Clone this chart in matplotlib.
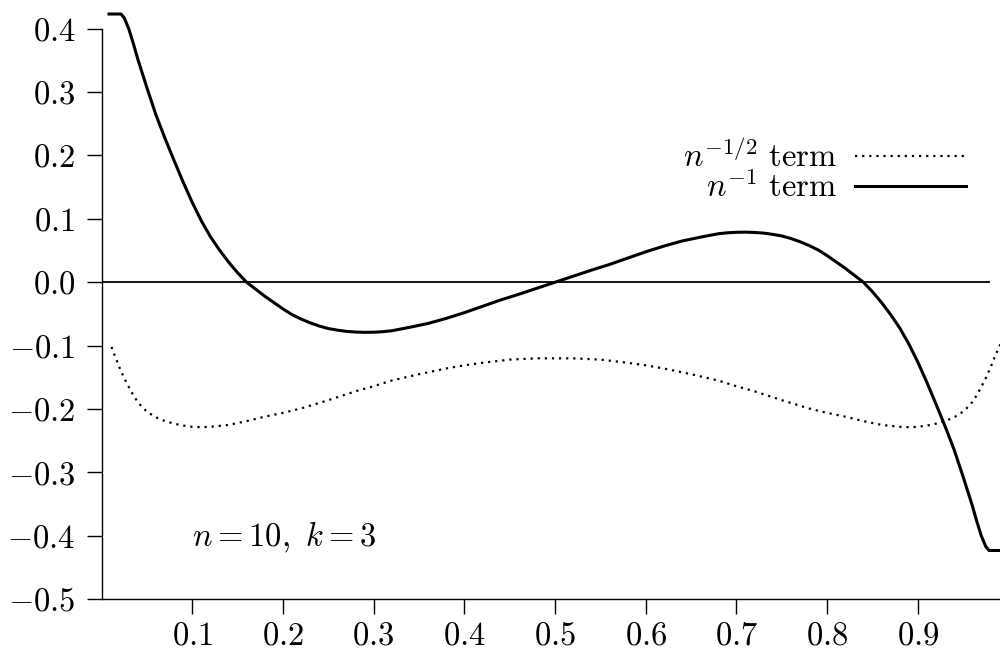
import numpy as np
import matplotlib
matplotlib.use('Agg')
import matplotlib.pyplot as plt
from matplotlib.ticker import FuncFormatter

plt.rcParams['mathtext.fontset'] = 'cm'
plt.rcParams['font.family'] = ['cmr10', 'DejaVu Serif']
plt.rcParams['axes.unicode_minus'] = False

# n^{-1} term (solid)
x1 = [0.0083, 0.0215, 0.025, 0.03, 0.035, 0.04, 0.05, 0.06, 0.07, 0.08, 0.09, 0.10,
      0.11, 0.12, 0.13, 0.14, 0.15, 0.16, 0.17, 0.18, 0.19, 0.20, 0.21, 0.22,
      0.23, 0.24, 0.25, 0.26, 0.27, 0.28, 0.29, 0.30, 0.31, 0.32, 0.34, 0.36,
      0.38, 0.40, 0.42, 0.44, 0.46, 0.48, 0.50,
      0.52, 0.54, 0.56, 0.58, 0.60, 0.62, 0.64, 0.66, 0.68, 0.69, 0.70, 0.71,
      0.72, 0.73, 0.74, 0.75, 0.76, 0.77, 0.78, 0.79, 0.80, 0.81, 0.82, 0.83,
      0.84, 0.85, 0.86, 0.87, 0.88, 0.89, 0.90, 0.91, 0.92, 0.93, 0.94, 0.95,
      0.96, 0.965, 0.97, 0.975, 0.9785, 0.9917]
y1 = [0.423, 0.423, 0.417, 0.400, 0.377, 0.352, 0.307, 0.264, 0.227, 0.192, 0.158, 0.126,
      0.097, 0.072, 0.051, 0.032, 0.015, 0.0, -0.011, -0.022, -0.032, -0.042, -0.051, -0.058,
      -0.064, -0.069, -0.073, -0.0755, -0.0775, -0.0785, -0.079, -0.0788, -0.078, -0.0765, -0.071, -0.065,
      -0.057, -0.048, -0.038, -0.028, -0.019, -0.0095, 0.0,
      0.0095, 0.019, 0.028, 0.038, 0.048, 0.057, 0.065, 0.071, 0.0765, 0.078, 0.0788, 0.079,
      0.0785, 0.0775, 0.0755, 0.073, 0.069, 0.064, 0.058, 0.051, 0.042, 0.032, 0.022, 0.011,
      0.0, -0.015, -0.032, -0.051, -0.072, -0.097, -0.126, -0.158, -0.192, -0.227, -0.264, -0.307,
      -0.352, -0.377, -0.400, -0.417, -0.423, -0.423]

# n^{-1/2} term (dotted)
x2 = [0.011, 0.015, 0.02, 0.025, 0.03, 0.035, 0.04, 0.045, 0.05, 0.06, 0.07, 0.08,
      0.09, 0.10, 0.11, 0.12, 0.14, 0.16, 0.18, 0.20, 0.22, 0.25, 0.28, 0.30,
      0.32, 0.35, 0.38, 0.40, 0.42, 0.45, 0.48, 0.50,
      0.52, 0.55, 0.58, 0.60, 0.62, 0.65, 0.68, 0.70, 0.72, 0.75, 0.78, 0.80,
      0.82, 0.84, 0.86, 0.88, 0.89, 0.90, 0.91, 0.92, 0.93, 0.94, 0.95, 0.955,
      0.96, 0.965, 0.97, 0.975, 0.98, 0.985, 0.991]
y2 = [-0.102, -0.117, -0.135, -0.151, -0.165, -0.178, -0.189, -0.197, -0.204, -0.213, -0.219, -0.223,
      -0.226, -0.228, -0.2286, -0.228, -0.225, -0.219, -0.212, -0.206, -0.199, -0.186, -0.172, -0.164,
      -0.155, -0.145, -0.136, -0.131, -0.127, -0.122, -0.120, -0.120,
      -0.120, -0.122, -0.127, -0.131, -0.136, -0.145, -0.155, -0.164, -0.172, -0.186, -0.199, -0.206,
      -0.212, -0.219, -0.225, -0.228, -0.2286, -0.228, -0.226, -0.223, -0.219, -0.213, -0.204, -0.197,
      -0.189, -0.178, -0.165, -0.151, -0.135, -0.117, -0.098]

xzero = [0.0, 0.979]
yzero = [0.0, 0.0]

xticks = [0.1, 0.2, 0.3, 0.4, 0.5, 0.6, 0.7, 0.8, 0.9]
yticks = [-0.5, -0.4, -0.3, -0.2, -0.1, 0.0, 0.1, 0.2, 0.3, 0.4]

fs = 23.5

fig = plt.figure(figsize=(10, 6.5), dpi=100)
ax = fig.add_axes([0.1015, 0.078, 0.8985, 0.878])

ax.plot(xzero, yzero, color='black', lw=1.3)
l2, = ax.plot(x2, y2, color='black', lw=1.6, linestyle=(0, (1, 2.2)), clip_on=False)
l1, = ax.plot(x1, y1, color='black', lw=2.2, clip_on=False)

ax.set_xlim(0, 0.9906)
ax.set_ylim(-0.5, 0.4)
ax.set_xticks(xticks)
ax.set_yticks(yticks)
fmt = FuncFormatter(lambda v, p: r'$%.1f$' % v)
ax.xaxis.set_major_formatter(fmt)
ax.yaxis.set_major_formatter(fmt)
ax.tick_params(direction='out', length=10.8, width=1.0, labelsize=fs)
ax.tick_params(axis='x', pad=5)
ax.tick_params(axis='y', pad=8)

for s in ['top', 'right']:
    ax.spines[s].set_visible(False)
for s in ['left', 'bottom']:
    ax.spines[s].set_linewidth(1.0)

ax.text(0.1, -0.403, r'$n = 10,\ k = 3$', fontsize=fs, ha='left', va='center')

leg = ax.legend([l2, l1], [r'$n^{-1/2}\ \mathrm{term}$', r'$n^{-1}\ \mathrm{term}$'],
                loc='upper right', bbox_to_anchor=(0.962, 0.807), frameon=False,
                markerfirst=False, fontsize=fs, handlelength=3.4, handletextpad=0.55,
                labelspacing=-0.08, borderpad=0, borderaxespad=0)
for t in leg.get_texts():
    t.set_ha('right')

plt.savefig('out.png', dpi=100)
